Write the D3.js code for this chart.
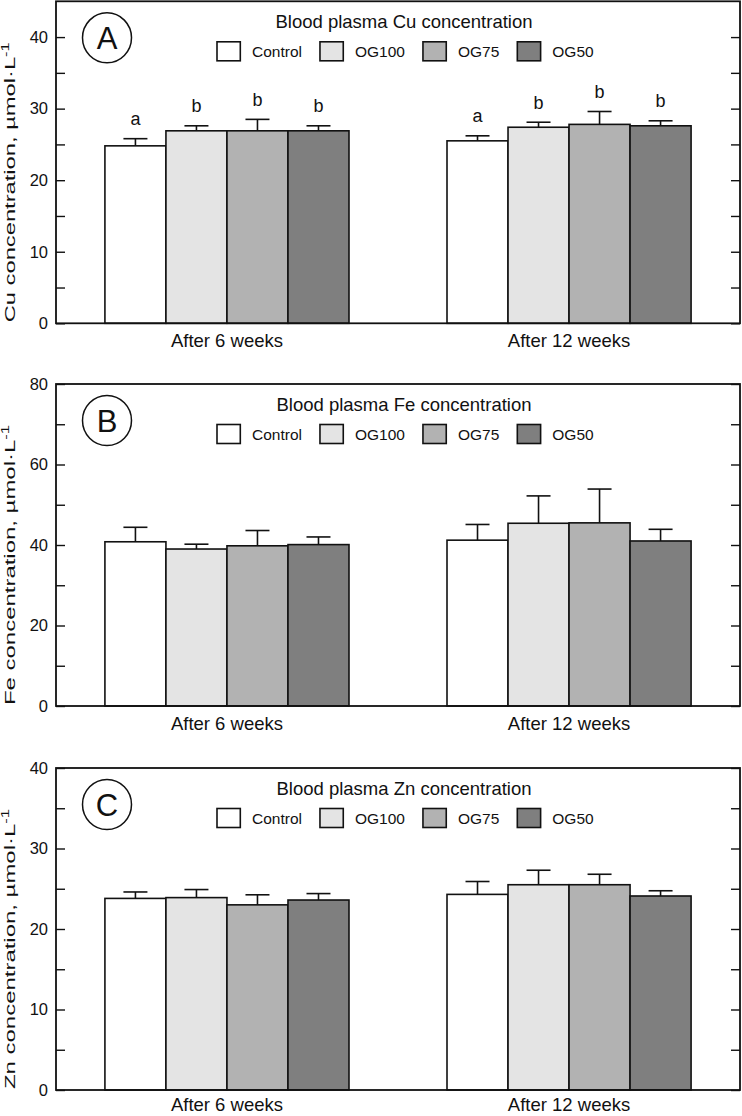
<!DOCTYPE html>
<html>
<head>
<meta charset="utf-8">
<script src="https://cdn.jsdelivr.net/npm/d3@7"></script>
<style>
  body { margin: 0; background: #fff; }
  svg text { font-family: "Liberation Sans", Arial, sans-serif; fill: #111; }
</style>
</head>
<body>
<div id="chart"></div>
<script>
// categories and series
var groups = ["After 6 weeks", "After 12 weeks"];
var series = ["Control", "OG100", "OG75", "OG50"];
var fills = ["#ffffff", "#e4e4e4", "#b2b2b2", "#7f7f7f"];

// Cu (means, SD, letters) - one row per group
var cuMean = [[24.8, 26.9, 26.9, 26.9], [25.5, 27.4, 27.8, 27.6]];
var cuSd = [[1.0, 0.7, 1.6, 0.7], [0.7, 0.7, 1.8, 0.7]];
var cuLetters = [["a", "b", "b", "b"], ["a", "b", "b", "b"]];

// Fe
var feMean = [[40.8, 39.0, 39.8, 40.1], [41.2, 45.4, 45.5, 41.0]];
var feSd = [[3.6, 1.2, 3.8, 1.9], [3.9, 6.8, 8.4, 2.9]];

// Zn
var znMean = [[23.8, 23.9, 23.0, 23.6], [24.3, 25.5, 25.5, 24.1]];
var znSd = [[0.8, 1.0, 1.25, 0.8], [1.6, 1.8, 1.3, 0.65]];

// y ticks
var cuTicks = [0, 10, 20, 30, 40];
var cuMinor = [5, 15, 25, 35];
var feTicks = [0, 20, 40, 60, 80];
var feMinor = [10, 30, 50, 70];
var znTicks = [0, 10, 20, 30, 40];
var znMinor = [5, 15, 25, 35];

var W = 742, H = 1116;
var left = 56, right = 740, plotH = 322;

var svg = d3.select("#chart").append("svg")
    .attr("width", W)
    .attr("height", H);

var x0 = d3.scaleBand()
    .domain(groups)
    .range([left, right])
    .paddingInner(0.2865)
    .paddingOuter(0.143);

var x1 = d3.scaleBand()
    .domain(series)
    .range([0, x0.bandwidth()]);

function drawPanel(p) {
    var top = p.top, bottom = p.top + plotH;
    var g = svg.append("g");

    var y = d3.scaleLinear()
        .domain([0, p.max])
        .range([bottom, top]);

    // bars
    groups.forEach(function(grp, gi) {
        var rows = series.map(function(s, si) {
            return {s: s, i: si, v: p.mean[gi][si], sd: p.sd[gi][si],
                    lab: p.letters ? p.letters[gi][si] : null};
        });
        var gg = g.append("g").attr("transform", "translate(" + x0(grp) + ",0)");

        // error bars (upper only)
        gg.selectAll("line.err")
            .data(rows)
            .enter()
            .append("line")
            .attr("x1", function(d){ return x1(d.s) + x1.bandwidth() / 2; })
            .attr("x2", function(d){ return x1(d.s) + x1.bandwidth() / 2; })
            .attr("y1", function(d){ return y(d.v); })
            .attr("y2", function(d){ return y(d.v + d.sd); })
            .attr("stroke", "#111")
            .attr("stroke-width", 1.6);
        gg.selectAll("line.cap")
            .data(rows)
            .enter()
            .append("line")
            .attr("x1", function(d){ return x1(d.s) + x1.bandwidth() / 2 - 12; })
            .attr("x2", function(d){ return x1(d.s) + x1.bandwidth() / 2 + 12; })
            .attr("y1", function(d){ return y(d.v + d.sd); })
            .attr("y2", function(d){ return y(d.v + d.sd); })
            .attr("stroke", "#111")
            .attr("stroke-width", 1.6);

        gg.selectAll("rect")
            .data(rows)
            .enter()
            .append("rect")
            .attr("x", function(d){ return x1(d.s); })
            .attr("y", function(d){ return y(d.v); })
            .attr("width", x1.bandwidth())
            .attr("height", function(d){ return y(0) - y(d.v); })
            .attr("fill", function(d){ return fills[d.i]; })
            .attr("stroke", "#111")
            .attr("stroke-width", 1.6);

        if (p.letters) {
            gg.selectAll("text.sig")
                .data(rows)
                .enter()
                .append("text")
                .attr("class", "sig")
                .attr("x", function(d){ return x1(d.s) + x1.bandwidth() / 2; })
                .attr("y", function(d){ return y(d.v + d.sd) - 13.5; })
                .attr("text-anchor", "middle")
                .style("font-size", "18px")
                .text(function(d){ return d.lab; });
        }

        // category label
        g.append("text")
            .attr("x", x0(grp) + x0.bandwidth() / 2)
            .attr("y", bottom + p.labelGap)
            .attr("text-anchor", "middle")
            .style("font-size", "18.5px")
            .text(grp);
    });

    // axes: ticks point inward on both sides
    var yl = d3.axisLeft(y).tickValues(p.ticks).tickSize(-9).tickPadding(8);
    var ylm = d3.axisLeft(y).tickValues(p.minor).tickSize(-9).tickFormat("");
    var yr = d3.axisRight(y).tickValues(p.ticks.concat(p.minor)).tickSize(-9).tickFormat("");

    [g.append("g").attr("transform", "translate(" + left + ",0)").call(yl),
     g.append("g").attr("transform", "translate(" + left + ",0)").call(ylm),
     g.append("g").attr("transform", "translate(" + right + ",0)").call(yr)]
        .forEach(function(a) {
            a.select(".domain").remove();
            a.selectAll("line").attr("stroke", "#111").attr("stroke-width", 1.4);
            a.selectAll("text").style("font-size", "16.5px").style("font-family", null).attr("fill", "#111");
        });

    // frame
    g.append("rect")
        .attr("x", left)
        .attr("y", top)
        .attr("width", right - left)
        .attr("height", plotH)
        .attr("fill", "none")
        .attr("stroke", "#111")
        .attr("stroke-width", 1.8);

    // panel letter
    g.append("ellipse")
        .attr("cx", 107)
        .attr("cy", top + 36.5)
        .attr("rx", 24.5)
        .attr("ry", 25)
        .attr("fill", "none")
        .attr("stroke", "#111")
        .attr("stroke-width", 1.5);
    g.append("text")
        .attr("x", 107)
        .attr("y", top + 47.5)
        .attr("text-anchor", "middle")
        .style("font-size", "31px")
        .text(p.letter);

    // title
    g.append("text")
        .attr("x", 404)
        .attr("y", top + 27)
        .attr("text-anchor", "middle")
        .style("font-size", "18.5px")
        .text("Blood plasma " + p.el + " concentration");

    // legend
    var lx = 217;
    series.forEach(function(s, i) {
        g.append("rect")
            .attr("x", lx)
            .attr("y", top + 40.5)
            .attr("width", 23.3)
            .attr("height", 19)
            .attr("fill", fills[i])
            .attr("stroke", "#111")
            .attr("stroke-width", 1.6);
        var t = g.append("text")
            .attr("x", lx + 35)
            .attr("y", top + 56)
            .style("font-size", "15.5px")
            .text(s);
        lx = lx + 35 + t.node().getComputedTextLength() + 18;
    });

    // y title, stretched like the original
    var yt = g.append("text")
        .attr("transform", "translate(14.5," + (top + plotH / 2 + 20) + ") rotate(-90)")
        .attr("text-anchor", "middle")
        .attr("textLength", 280)
        .attr("lengthAdjust", "spacingAndGlyphs")
        .style("font-size", "14.5px");
    yt.append("tspan").text(p.el + " concentration, \u00b5mol\u00b7L");
    yt.append("tspan").attr("dy", -6).style("font-size", "10px").text("-1");
}

drawPanel({top: 1.3, max: 45, mean: cuMean, sd: cuSd, letters: cuLetters,
           ticks: cuTicks, minor: cuMinor, letter: "A", el: "Cu", labelGap: 24});
drawPanel({top: 384, max: 80, mean: feMean, sd: feSd, letters: null,
           ticks: feTicks, minor: feMinor, letter: "B", el: "Fe", labelGap: 24});
drawPanel({top: 768, max: 40, mean: znMean, sd: znSd, letters: null,
           ticks: znTicks, minor: znMinor, letter: "C", el: "Zn", labelGap: 20.5});
</script>
</body>
</html>
